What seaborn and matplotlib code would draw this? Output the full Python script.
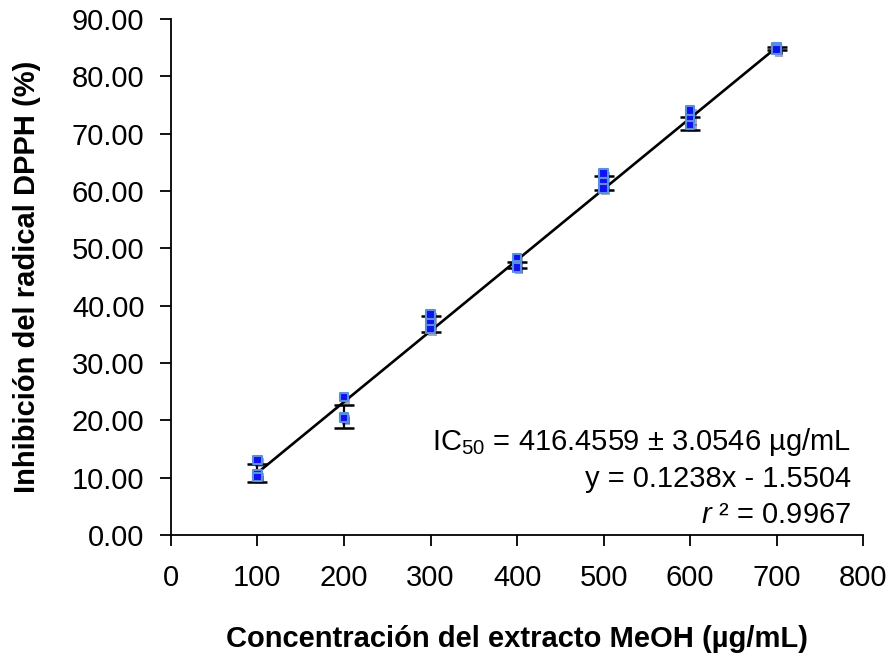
import numpy as np
import pandas as pd
import matplotlib
matplotlib.use("Agg")
import matplotlib.pyplot as plt
import matplotlib.patheffects as pe
import seaborn as sns

# replicate readings (triplicates) per concentration
conc = [100, 100, 100, 200, 200, 200, 300, 300, 300, 400, 400, 400,
        500, 500, 500, 600, 600, 600, 700, 700, 700]
inhib = [13.1, 10.6, 10.1, 24.1, 20.6, 20.4, 38.5, 37.0, 35.9, 48.3, 47.0, 46.7,
         63.1, 61.6, 60.5, 74.1, 72.6, 71.5, 85.1, 84.9, 84.7]

# mean and standard deviation per level
levels = [100, 200, 300, 400, 500, 600, 700]
means = [10.8, 20.7, 36.8, 47.1, 61.4, 71.8, 84.9]
sds = [1.6, 2.0, 1.4, 0.5, 1.2, 1.15, 0.3]

slope, intercept = 0.1238, -1.5504
fit_x = [100, 700]

df = pd.DataFrame({"conc": conc, "inhib": inhib})

sns.set_style("white")
plt.rcParams["font.family"] = ["Liberation Sans", "DejaVu Sans"]
plt.rcParams["mathtext.fontset"] = "custom"
plt.rcParams["mathtext.rm"] = "Liberation Sans"
plt.rcParams["mathtext.it"] = "Liberation Sans:italic"
plt.rcParams["text.color"] = "black"
plt.rcParams["axes.labelcolor"] = "black"
plt.rcParams["xtick.color"] = "black"
plt.rcParams["ytick.color"] = "black"

fig = plt.figure(figsize=(8.9, 6.62), dpi=100)
ax = fig.add_axes([0.192, 0.192, 0.778, 0.779])

# trend line
fit_y = [slope * v + intercept for v in fit_x]
sns.lineplot(x=fit_x, y=fit_y, color="black", lw=1.9, ax=ax, zorder=3)

# error bars for means
ax.errorbar(levels, means, yerr=sds, fmt="none", ecolor="black",
            elinewidth=1.6, capsize=7, capthick=1.8, zorder=4)

# replicate markers
sns.scatterplot(data=df, x="conc", y="inhib", marker="s", s=38,
                color="#1010f0", edgecolor="#5a8fe0", linewidth=1.5,
                ax=ax, zorder=5,
                path_effects=[pe.SimplePatchShadow(offset=(1.5, -2), alpha=0.35), pe.Normal()])

ax.set_xlim(0, 800)
ax.set_ylim(0, 90)
ax.set_xticks(range(0, 801, 100))
ax.set_yticks(range(0, 91, 10))
ax.set_yticklabels([f"{v:.2f}" for v in range(0, 91, 10)])
ax.tick_params(axis="both", labelsize=21, length=8, width=1.3,
               direction="out", color="black", bottom=True, left=True)
ax.tick_params(axis="x", pad=13)
ax.tick_params(axis="y", pad=11)

for side in ["top", "right"]:
    ax.spines[side].set_visible(False)
for side in ["left", "bottom"]:
    ax.spines[side].set_color("black")
    ax.spines[side].set_linewidth(1.3)

ax.set_xlabel("Concentración del extracto MeOH (µg/mL)", fontsize=21,
              fontweight="bold", labelpad=24)
ax.set_ylabel("Inhibición del radical DPPH (%)", fontsize=21,
              fontweight="bold", labelpad=22)

txt = "IC$_{50}$ = 416.4559 ± 3.0546 µg/mL\ny = 0.1238x - 1.5504\n$r$ ² = 0.9967"
ax.text(0.982, 0.012, txt, transform=ax.transAxes, ha="right", va="bottom",
        fontsize=21, linespacing=1.33)

fig.savefig("out.png", dpi=100)
